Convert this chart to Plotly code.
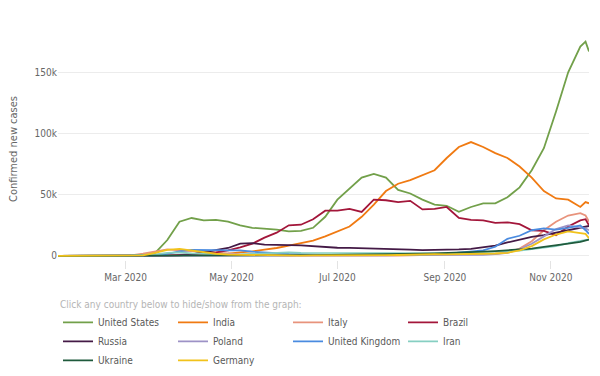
import plotly.graph_objects as go

dates = ["2020-01-22", "2020-01-29", "2020-02-05", "2020-02-12", "2020-02-19", "2020-02-26",
         "2020-03-04", "2020-03-11", "2020-03-18", "2020-03-25", "2020-04-01", "2020-04-08",
         "2020-04-15", "2020-04-22", "2020-04-29", "2020-05-06", "2020-05-13", "2020-05-20",
         "2020-05-27", "2020-06-03", "2020-06-10", "2020-06-17", "2020-06-24", "2020-07-01",
         "2020-07-08", "2020-07-15", "2020-07-22", "2020-07-29", "2020-08-05", "2020-08-12",
         "2020-08-19", "2020-08-26", "2020-09-02", "2020-09-09", "2020-09-16", "2020-09-23",
         "2020-09-30", "2020-10-07", "2020-10-14", "2020-10-21", "2020-10-28", "2020-11-04",
         "2020-11-11", "2020-11-18", "2020-11-21", "2020-11-23"]

united_states = [0, 0, 0, 0, 0, 0, 20, 150, 2500, 13000, 28000, 31000,
                 29000, 29500, 28000, 25000, 23000, 22500, 21500, 20000, 20500, 23000,
                 32000, 46000, 55000, 64000, 67000, 64000, 54000, 51000, 46000, 42000,
                 41000, 36000, 40000, 43000, 43000, 48000, 56000, 70000, 88000, 118000,
                 150000, 171000, 175000, 167000]
india = [0, 0, 0, 0, 0, 0, 5, 10, 20, 70, 200, 600,
         900, 1400, 1800, 3000, 3700, 5200, 6500, 8500, 10500, 12500,
         16000, 20000, 24000, 32000, 42000, 53000, 59000, 62000, 66000, 70000,
         80000, 89000, 93000, 89000, 84000, 80000, 73000, 64000, 53000, 47000,
         46000, 40000, 44000, 43000]
italy = [0, 0, 0, 0, 0, 150, 400, 1800, 3800, 5400, 4500, 4000,
         3300, 2700, 2000, 1300, 900, 600, 500, 350, 300, 280,
         220, 200, 200, 220, 260, 300, 380, 480, 800, 1300,
         1400, 1500, 1500, 1600, 1800, 2900, 6000, 12000, 21000, 28000,
         33000, 35000, 33000, 28000]
brazil = [0, 0, 0, 0, 0, 0, 2, 10, 50, 300, 800, 1300,
          2000, 3000, 4500, 7000, 10000, 15000, 19000, 25000, 25500, 30000,
          37000, 37000, 38500, 36000, 46000, 45500, 44000, 45000, 38000, 38500,
          40000, 31000, 29500, 29000, 27000, 27500, 26000, 21000, 20500, 17000,
          24000, 29000, 30000, 25000]
russia = [0, 0, 0, 0, 0, 0, 1, 5, 20, 100, 500, 1200,
          3000, 4800, 6500, 10000, 10500, 9200, 8800, 8800, 8700, 8000,
          7200, 6700, 6600, 6400, 5900, 5600, 5300, 5100, 4800, 4800,
          5000, 5300, 5800, 7000, 8500, 11000, 13500, 15500, 17000, 19000,
          21000, 23000, 24000, 24500]
poland = [0, 0, 0, 0, 0, 0, 0, 10, 40, 150, 300, 380,
          330, 300, 300, 320, 330, 400, 350, 350, 400, 380,
          350, 330, 300, 320, 400, 550, 650, 700, 750, 700,
          650, 600, 800, 1000, 1500, 2500, 5500, 10000, 16000, 22000,
          25000, 23000, 22500, 21000]
united_kingdom = [0, 0, 0, 0, 0, 0, 10, 50, 400, 1800, 3700, 4900,
                  5100, 4800, 4600, 4500, 3500, 2600, 2200, 1700, 1300, 1100,
                  900, 800, 650, 600, 650, 750, 850, 950, 1100, 1200,
                  1600, 2700, 3600, 4600, 7500, 14000, 16500, 21000, 22500, 21500,
                  23000, 25000, 21000, 18000]
iran = [0, 0, 0, 0, 0, 50, 500, 900, 1200, 2500, 3000, 2100,
        1600, 1200, 1000, 1200, 1600, 2000, 2500, 3000, 2500, 2500,
        2600, 2600, 2500, 2400, 2500, 2500, 2500, 2400, 2200, 2100,
        2000, 2100, 2700, 3300, 3700, 4000, 4300, 5500, 6500, 8000,
        10500, 12500, 13200, 13500]
ukraine = [0, 0, 0, 0, 0, 0, 0, 1, 5, 40, 120, 350,
           400, 400, 450, 450, 450, 450, 400, 500, 600, 700,
           800, 900, 850, 850, 1000, 1100, 1300, 1500, 1800, 2100,
           2300, 2600, 3000, 3500, 4000, 4500, 5300, 6000, 7500, 8500,
           10000, 11500, 12500, 13300]
germany = [0, 0, 0, 0, 0, 5, 30, 400, 2500, 5000, 5800, 4500,
           3000, 1800, 1100, 900, 700, 500, 400, 350, 300, 550,
           500, 400, 350, 400, 500, 650, 800, 1100, 1300, 1400,
           1300, 1300, 1700, 1800, 2000, 2600, 4500, 8000, 13500, 17500,
           20000, 19000, 18000, 14500]

series = [
    ("United States", united_states, "#72a04a"),
    ("India", india, "#f07a12"),
    ("Italy", italy, "#e8937c"),
    ("Brazil", brazil, "#a3163a"),
    ("Russia", russia, "#441a46"),
    ("Poland", poland, "#9d92c6"),
    ("United Kingdom", united_kingdom, "#4a8be0"),
    ("Iran", iran, "#86cfc2"),
    ("Ukraine", ukraine, "#1f5a3c"),
    ("Germany", germany, "#f1c21b"),
]

x_ticks = ["2020-03-01", "2020-05-01", "2020-07-01", "2020-09-01", "2020-11-01"]
x_tick_labels = ["Mar 2020", "May 2020", "Jul 2020", "Sep 2020", "Nov 2020"]
y_ticks = [0, 50000, 100000, 150000]
y_tick_labels = ["0", "50k", "100k", "150k"]

FONT = "DejaVu Sans Condensed, DejaVu Sans, sans-serif"

fig = go.Figure()
for name, vals, col in series:
    fig.add_trace(go.Scatter(x=dates, y=vals, mode="lines", name=name,
                             line=dict(color=col, width=1.8)))

fig.update_layout(
    width=600, height=376,
    margin=dict(l=58, r=11, t=38, b=116, autoexpand=False),
    paper_bgcolor="white", plot_bgcolor="white",
    font=dict(family=FONT, size=10, color="#666666"),
    showlegend=True,
    legend=dict(orientation="h", x=0, xanchor="left", y=-0.157, yanchor="top",
                entrywidth=70, entrywidthmode="pixels",
                font=dict(family=FONT, size=10, color="#595959"),
                title=dict(text="Click any country below to hide/show from the graph:",
                           side="top", font=dict(family=FONT, size=10, color="#b5b5b5"))),
    xaxis=dict(range=["2020-01-22", "2020-11-23"], tickvals=x_ticks, ticktext=x_tick_labels,
               showgrid=False, ticks="outside", ticklen=8, tickcolor="#e3e3e3",
               showline=False, zeroline=False, tickfont=dict(color="#666666", size=10)),
    yaxis=dict(range=[-3300, 178000], tickvals=y_ticks, ticktext=y_tick_labels,
               showgrid=True, gridcolor="#ececec", gridwidth=1, zeroline=False,
               ticks="", showline=False, tickfont=dict(color="#666666", size=10),
               title=dict(text="Confirmed new cases", font=dict(family=FONT, size=11, color="#666666"),
                          standoff=14)),
)

fig.write_html("out.html", config={"displayModeBar": False},
               post_script="document.body.style.margin='0';document.body.style.overflow='hidden';")
